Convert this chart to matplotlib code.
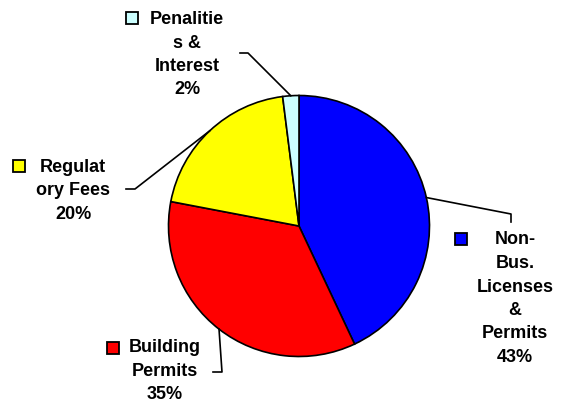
import numpy as np
import matplotlib.pyplot as plt
from matplotlib.patches import Rectangle

# slices, clockwise from 12 o'clock
labels = ["Non-\nBus.\nLicenses\n&\nPermits", "Building\nPermits", "Regulat\nory Fees", "Penalitie\ns &\nInterest"]
values = [43, 35, 20, 2]
colors = ["#0000FF", "#FF0000", "#FFFF00", "#CCFFFF"]

W, H = 565, 404
CX, CY, R = 299, 226, 130.5


def px(x, y):
    # pixel (from top-left) -> data units (pie radius = 1)
    return (x - CX) / R, (CY - y) / R


fig = plt.figure(figsize=(W / 100, H / 100), dpi=100)
ax = fig.add_axes([0, 0, 1, 1])

wedges, _ = ax.pie(values, colors=colors, startangle=90, counterclock=False,
                   wedgeprops=dict(edgecolor="black", linewidth=1.2))

ax.set_xlim(-CX / R, (W - CX) / R)
ax.set_ylim(-(H - CY) / R, CY / R)
ax.set_aspect("equal")
ax.axis("off")

# label layout: text centre x, first line centre y, key box top-left, leader elbow points
layout = [
    dict(tx=515, ty=238.5, key=(455, 233), elbow=[(511, 214), (511, 222)]),
    dict(tx=165, ty=346, key=(107, 342), elbow=[(222, 372), (213, 372)]),
    dict(tx=73, ty=166, key=(13, 160), elbow=[(135, 189), (126, 189)]),
    dict(tx=187, ty=18, key=(126, 12), elbow=[(248, 53), (240, 53)]),
]

font = dict(family=["Liberation Sans", "DejaVu Sans"], fontweight="bold", fontsize=13)
total = float(sum(values))
for w, lab, val, col, lay in zip(wedges, labels, values, colors, layout):
    ang = np.deg2rad((w.theta1 + w.theta2) / 2)
    start = (np.cos(ang), np.sin(ang))
    pts = [start] + [px(*p) for p in lay["elbow"]]
    xs, ys = zip(*pts)
    ax.plot(xs, ys, color="black", lw=1.2)

    tx, ty = px(lay["tx"], lay["ty"] - 7)
    ax.text(tx, ty, f"{lab}\n{round(val / total * 100)}%", ha="center", va="top",
            ma="center", linespacing=1.5, **font)
    kx, ky = px(*lay["key"])
    s = 12 / R
    ax.add_patch(Rectangle((kx, ky - s), s, s, facecolor=col, edgecolor="black", lw=1.3))

fig.savefig("out.png", dpi=100)
